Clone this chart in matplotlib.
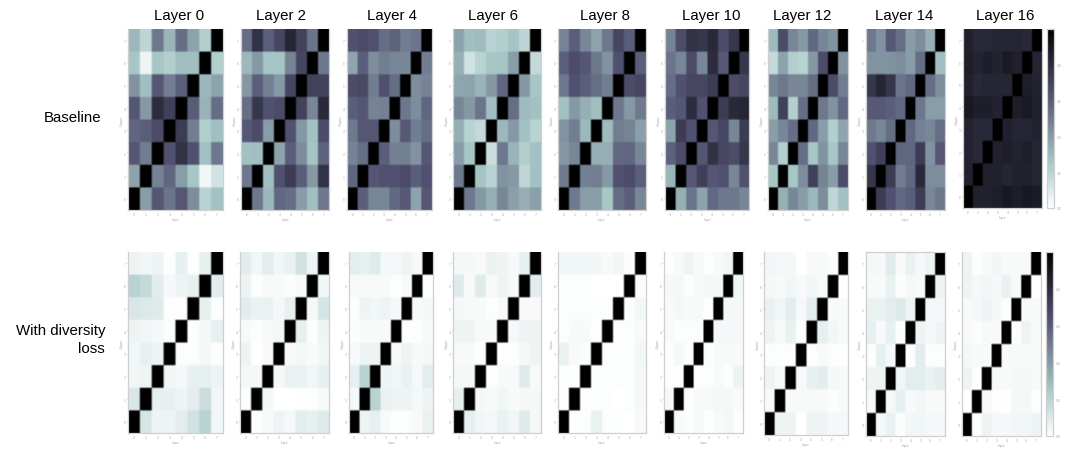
import numpy as np
import matplotlib
matplotlib.use("Agg")
import matplotlib.pyplot as plt

layers = [0, 2, 4, 6, 8, 10, 12, 14, 16]
row_labels = ["Baseline", "With diversity\nloss"]

# Rows are listed from the top of the panel (Output 7) down to Output 0.
base_0 = [[.3,.19,.51,.31,.54,.37,.22,1],[.25,.05,.25,.22,.28,.28,1,.22],[.42,.28,.62,.49,.59,1,.3,.37],[.62,.4,.8,.71,1,.6,.32,.54],[.57,.59,.66,1,.73,.49,.22,.28],[.62,.49,1,.64,.77,.64,.27,.51],[.37,1,.47,.57,.39,.25,.04,.13],[1,.39,.62,.52,.62,.44,.2,.27]]
base_2 = [[.54,.77,.59,.68,.83,.7,.52,1],[.3,.4,.26,.26,.47,.68,1,.51],[.41,.59,.48,.4,.68,1,.7,.7],[.54,.75,.64,.66,1,.7,.46,.81],[.61,.66,.39,1,.64,.4,.27,.66],[.27,.28,1,.37,.59,.44,.26,.58],[.51,1,.28,.64,.73,.59,.4,.77],[1,.51,.3,.56,.54,.39,.28,.51]]
base_4 = [[.64,.66,.64,.54,.58,.49,.52,1],[.36,.59,.44,.49,.46,.46,1,.49],[.66,.67,.49,.64,.54,1,.44,.47],[.59,.62,.47,.48,1,.51,.44,.57],[.5,.62,.62,1,.44,.61,.49,.54],[.47,.54,1,.59,.48,.48,.42,.62],[.57,1,.62,.64,.64,.66,.59,.64],[1,.59,.46,.46,.56,.61,.37,.62]]
base_6 = [[.37,.28,.29,.2,.22,.26,.19,1],[.33,.13,.2,.25,.26,.39,1,.17],[.36,.37,.31,.4,.57,1,.4,.25],[.46,.4,.52,.28,1,.54,.29,.27],[.33,.2,.17,1,.3,.4,.27,.2],[.39,.25,1,.15,.51,.31,.22,.27],[.51,1,.26,.2,.42,.4,.18,.27],[1,.51,.4,.33,.46,.38,.33,.38]]
base_8 = [[.47,.59,.46,.37,.51,.68,.59,1],[.59,.66,.62,.51,.42,.64,1,.59],[.51,.64,.59,.54,.49,1,.66,.68],[.27,.4,.33,.28,1,.51,.4,.5],[.42,.49,.3,1,.29,.49,.47,.38],[.4,.46,1,.33,.33,.56,.57,.46],[.5,1,.48,.49,.4,.64,.66,.59],[1,.5,.39,.39,.25,.54,.59,.46]]
base_10 = [[.47,.66,.77,.75,.81,.66,.75,1],[.52,.46,.66,.46,.8,.61,1,.75],[.54,.64,.68,.68,.73,1,.66,.68],[.59,.62,.8,.64,1,.73,.81,.83],[.37,.73,.64,1,.62,.68,.46,.73],[.58,.66,1,.62,.77,.68,.66,.75],[.31,1,.62,.71,.62,.64,.46,.64],[1,.33,.52,.37,.56,.51,.51,.46]]
base_12 = [[.29,.66,.46,.4,.56,.46,.42,1],[.17,.37,.22,.2,.4,.66,1,.42],[.46,.51,.46,.46,.54,1,.66,.49],[.29,.71,.22,.54,1,.51,.42,.56],[.39,.46,.54,1,.56,.39,.22,.36],[.46,.22,1,.54,.25,.42,.25,.46],[.25,1,.25,.44,.71,.47,.39,.66],[1,.33,.46,.39,.3,.44,.18,.27]]
base_14 = [[.51,.42,.61,.54,.39,.44,.33,1],[.42,.42,.42,.44,.39,.54,1,.28],[.75,.83,.75,.52,.56,1,.54,.44],[.61,.61,.59,.56,1,.51,.39,.39],[.5,.46,.54,1,.56,.48,.46,.54],[.64,.71,1,.57,.57,.73,.42,.62],[.75,1,.73,.49,.56,.81,.44,.44],[1,.73,.64,.56,.59,.73,.46,.51]]
base_16 = [[.85,.82,.82,.83,.83,.83,.82,1],[.86,.84,.86,.84,.88,.85,1,.83],[.85,.82,.83,.83,.83,1,.86,.84],[.89,.86,.86,.84,1,.86,.88,.85],[.84,.82,.82,1,.85,.83,.83,.84],[.84,.82,1,.85,.86,.84,.86,.83],[.85,1,.85,.85,.83,.85,.85,.83],[1,.85,.85,.86,.89,.86,.89,.87]]

div_0 = [[.05,.04,.05,.01,.07,.01,.07,1],[.2,.17,.08,.03,.05,.07,1,.08],[.11,.1,.09,.01,.01,1,.07,.01],[.05,.04,.03,.01,1,.01,.03,.07],[.04,.07,.05,1,.01,.01,.03,.01],[.04,.05,1,.04,.03,.07,.07,.05],[.11,1,.07,.07,.05,.08,.15,.04],[1,.12,.05,.05,.08,.13,.2,.04]]
div_2 = [[.08,.04,.08,.04,.06,.13,.05,1],[.05,.01,.02,.02,.01,.02,1,.04],[.08,.06,.06,.03,.07,1,.03,.12],[.02,.01,.02,.03,1,.07,.01,.05],[.05,0,.02,1,.02,.03,.02,.04],[.03,.03,1,.03,.06,.06,.04,.07],[.01,1,.03,0,0,.01,.01,.02],[1,.01,.02,.05,.03,.08,.07,.09]]
div_4 = [[.08,.07,.09,.03,.03,.05,.02,1],[.02,.02,.02,.02,.01,.02,1,.01],[.01,.05,.04,.05,.03,1,.02,.03],[.01,.02,.02,.02,1,.01,.01,.02],[.02,.05,.05,1,.02,.05,.02,.03],[.07,.2,1,.05,.04,.06,.03,.08],[.03,1,.2,.06,.05,.05,.03,.05],[1,.05,.07,.02,.01,.01,.02,.06]]
div_6 = [[.03,.03,.02,.06,.05,.02,.07,1],[.09,.02,.09,.02,.05,.02,1,.08],[.03,.02,.02,.01,.02,1,.02,.02],[.05,.05,.02,.02,1,.03,.05,.05],[.02,.02,.01,1,.01,.01,.03,.05],[.03,.03,1,.01,.02,.02,.09,.02],[.07,1,.03,.02,.04,.02,.03,.03],[1,.07,.04,.03,.06,.04,.09,.03]]
div_8 = [[.04,.04,.04,.04,.02,.04,.01,1],[.01,.01,.01,0,0,0,1,.01],[.01,.01,.01,.01,.01,1,.01,.04],[.01,.02,.02,.01,1,.01,.01,.02],[.06,.02,.01,1,.01,.01,.01,.04],[.01,.01,1,.01,.01,.01,.01,.03],[.01,1,.01,.01,.01,0,.01,.03],[1,.01,.01,.06,.01,.01,0,.02]]
div_10 = [[.01,.02,.05,.02,.01,.02,.04,1],[.03,.03,.01,.02,.03,.03,1,.04],[.02,.03,.02,.02,.01,1,.03,.03],[.02,.01,.01,.01,1,.03,.03,.03],[.01,.03,.01,1,.01,.02,.02,.02],[.01,.01,1,.01,.01,.02,.01,.05],[.03,1,.01,.02,.02,.03,.03,.02],[1,.02,.01,.02,.01,.02,.03,.01]]
div_12 = [[.04,.03,.03,0,.02,.02,.01,1],[.03,.02,.04,.02,.04,.02,1,0],[.06,.04,.08,.03,.08,1,.02,.02],[.05,.02,.06,.01,1,.07,.04,.02],[.01,.01,.01,1,.01,.02,.01,0],[.05,.02,1,.02,.07,.08,.03,.02],[.02,1,.02,.02,.02,.02,.01,.02],[1,.05,.05,0,.05,.05,.03,.03]]
div_14 = [[.03,.03,.09,.02,.06,.03,.05,1],[.02,.02,.06,.01,.03,.02,1,.05],[.06,.06,.08,.1,.05,1,.03,.03],[.07,.02,.07,.01,1,.05,.03,.05],[.01,.07,.03,1,.01,.08,.01,.01],[.05,.05,1,.04,.08,.08,.06,.08],[.02,1,.03,.07,.02,.04,.02,.02],[1,.03,.06,.01,.04,.04,.03,.03]]
div_16 = [[.05,.01,.02,.04,.02,.02,.02,1],[.05,.03,.04,.03,.06,.02,1,.01],[.02,.03,.05,.03,.01,1,.02,.02],[.02,.01,.02,.02,1,.01,.05,.02],[.03,.02,.02,1,.02,.02,.02,.02],[.05,.01,1,.02,.02,.03,.03,.02],[0,1,.02,.01,0,.03,.03,.01],[1,.01,.05,.03,.03,.04,.04,.05]]

baseline = [base_0, base_2, base_4, base_6, base_8, base_10, base_12, base_14, base_16]
diversity = [div_0, div_2, div_4, div_6, div_8, div_10, div_12, div_14, div_16]

W, H = 1078, 460
plt.rcParams["font.family"] = ["Liberation Sans", "DejaVu Sans"]
fig = plt.figure(figsize=(W / 100, H / 100), dpi=100)


def box(x0, x1, y0, y1):
    return [x0 / W, 1 - y1 / H, (x1 - x0) / W, (y1 - y0) / H]


# Panel extents in pixels: left, right, top, bottom
top_boxes = [(128, 223, 30, 211), (241, 329, 30, 211), (347, 432, 30, 211),
             (453, 541, 30, 211), (558, 646, 30, 211), (665, 749, 30, 211),
             (768, 848, 30, 211), (866, 945, 30, 211), (963, 1042, 30, 209)]
bot_boxes = [(128, 223, 253, 434), (240, 329, 253, 434), (349, 433, 253, 434),
             (453, 541, 253, 434), (558, 646, 253, 434), (664, 743, 253, 434),
             (764, 848, 253, 436), (866, 945, 253, 437), (962, 1041, 253, 437)]
title_x = [179, 281, 392, 493, 605, 711, 802, 904, 1005]
GRID = "#cfcfcf"
TICK = "#a8a8a8"


def panel(values, b, top_spine=True):
    ax = fig.add_axes(box(*b))
    m = np.array(values, dtype=float)[::-1]
    # Soft cell edges, as in the resampled source picture
    sm = np.repeat(np.repeat(m, 8, axis=0), 4, axis=1)
    im = ax.imshow(sm, cmap="bone_r", vmin=0, vmax=1, aspect="auto", origin="lower",
                   extent=(-0.5, 7.5, -0.5, 7.5), interpolation="hanning")
    ax.set_xticks(range(8))
    ax.set_yticks(range(8))
    ax.tick_params(labelsize=2.4, length=1, width=0.3, pad=0.5, colors=TICK)
    ax.set_xlabel("Input", fontsize=2.4, color=TICK, labelpad=1)
    ax.set_ylabel("Output", fontsize=2.4, color=TICK, labelpad=0.3)
    for s in ax.spines.values():
        s.set_color(GRID)
        s.set_linewidth(0.9)
    ax.spines["top"].set_visible(top_spine)
    return im


for lay, vals, b, tx in zip(layers, baseline, top_boxes, title_x):
    im = panel(vals, b, top_spine=False)
    fig.text(tx / W, 1 - 16 / H, f"Layer {lay}", ha="center", va="center",
             fontsize=10.8, color="black")
for i, (vals, b) in enumerate(zip(diversity, bot_boxes)):
    panel(vals, b, top_spine=(i == 7))

for b in [(1047, 1054, 30, 209), (1046, 1053, 253, 437)]:
    cax = fig.add_axes(box(*b))
    cb = fig.colorbar(im, cax=cax, ticks=[0, .2, .4, .6, .8])
    cb.ax.tick_params(labelsize=2.4, length=1, width=0.3, pad=1, colors=TICK)
    cb.outline.set_edgecolor(GRID)
    cb.outline.set_linewidth(0.9)

fig.text(101 / W, 1 - 117.5 / H, row_labels[0], ha="right", va="center", fontsize=10.8)
fig.text(105 / W, 1 - 340 / H, row_labels[1], ha="right", va="center", fontsize=10.8,
         linespacing=1.45)

fig.savefig("out.png", dpi=100, facecolor="white")
